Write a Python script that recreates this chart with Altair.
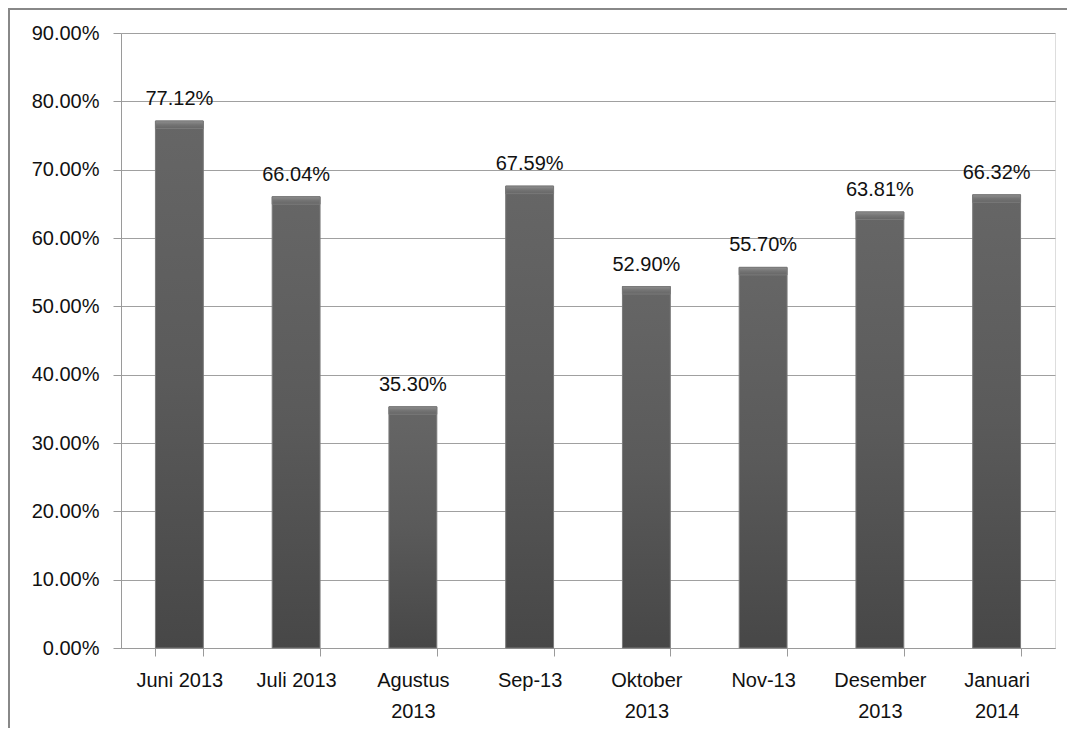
import altair as alt
import pandas as pd

categories = ["Juni 2013", "Juli 2013", "Agustus 2013", "Sep-13",
              "Oktober 2013", "Nov-13", "Desember 2013", "Januari 2014"]
values = [77.12, 66.04, 35.30, 67.59, 52.90, 55.70, 63.81, 66.32]
y_ticks = [0, 10, 20, 30, 40, 50, 60, 70, 80, 90]
wrapped = ["Agustus 2013", "Oktober 2013", "Desember 2013", "Januari 2014"]

df = pd.DataFrame({"cat": categories, "val": values})
df["label"] = [f"{v:.2f}%" for v in values]

W, H = 934, 615
FONT = "Liberation Sans"
FS = 20
TXT = "#111111"

wrap_list = "[" + ",".join(f"'{w}'" for w in wrapped) + "]"

x = alt.X("cat:N", sort=categories, title=None,
          scale=alt.Scale(paddingInner=0.59, paddingOuter=0.295),
          axis=alt.Axis(labelAngle=0, labelFont=FONT, labelFontSize=FS,
                        labelColor=TXT, labelPadding=14, tickSize=8,
                        tickBand="extent", tickColor="#9a9a9a",
                        domainColor="#9a9a9a", labelLineHeight=31,
                        labelExpr=f"indexof({wrap_list}, datum.label) >= 0 ? split(datum.label, ' ') : datum.label"))
y = alt.Y("val:Q", title=None,
          scale=alt.Scale(domain=[0, 90], nice=False),
          axis=alt.Axis(values=y_ticks, labelExpr="format(datum.value, '.2f') + '%'",
                        labelFont=FONT, labelFontSize=FS, labelColor=TXT,
                        tickSize=8, labelPadding=14, tickColor="#9a9a9a",
                        gridColor="#a0a0a0", domainColor="#9a9a9a"))

grad = alt.Gradient(gradient="linear", x1=0, x2=0, y1=0, y2=1,
                    stops=[alt.GradientStop(color="#666666", offset=0),
                           alt.GradientStop(color="#5a5a5a", offset=0.5),
                           alt.GradientStop(color="#474747", offset=1)])

bars = alt.Chart(df).mark_bar(fill=grad, stroke="#7a7a7a", strokeWidth=1).encode(x=x, y=y)

cap_grad = alt.Gradient(gradient="linear", x1=0, x2=0, y1=0, y2=1,
                        stops=[alt.GradientStop(color="#8e8e8e", offset=0),
                               alt.GradientStop(color="#747474", offset=0.5),
                               alt.GradientStop(color="#666666", offset=1)])
caps = alt.Chart(df).transform_calculate(low="datum.val - 1.1").mark_bar(
    fill=cap_grad, stroke="#7a7a7a", strokeWidth=1).encode(x=x, y="val:Q", y2="low:Q")

labels = alt.Chart(df).mark_text(font=FONT, fontSize=FS, color=TXT,
                                 baseline="bottom", dy=-12).encode(
    x=x, y="val:Q", text="label:N")

top_line = alt.Chart(df).mark_rule(color="#888888", strokeWidth=2).encode(
    x=alt.value(-113), x2=alt.value(W + 60), y=alt.value(-24))
left_line = alt.Chart(df).mark_rule(color="#888888", strokeWidth=2).encode(
    x=alt.value(-112), y=alt.value(-25), y2=alt.value(H + 120))

chart = alt.layer(top_line, left_line, bars, caps, labels).properties(
    width=W, height=H,
    autosize=alt.AutoSizeParams(type="none"),
    padding={"left": 113, "top": 25, "right": 12, "bottom": 80},
).configure_view(stroke=None).configure(background="white")

chart.save("out.html", embed_options={"renderer": "svg", "actions": False})
